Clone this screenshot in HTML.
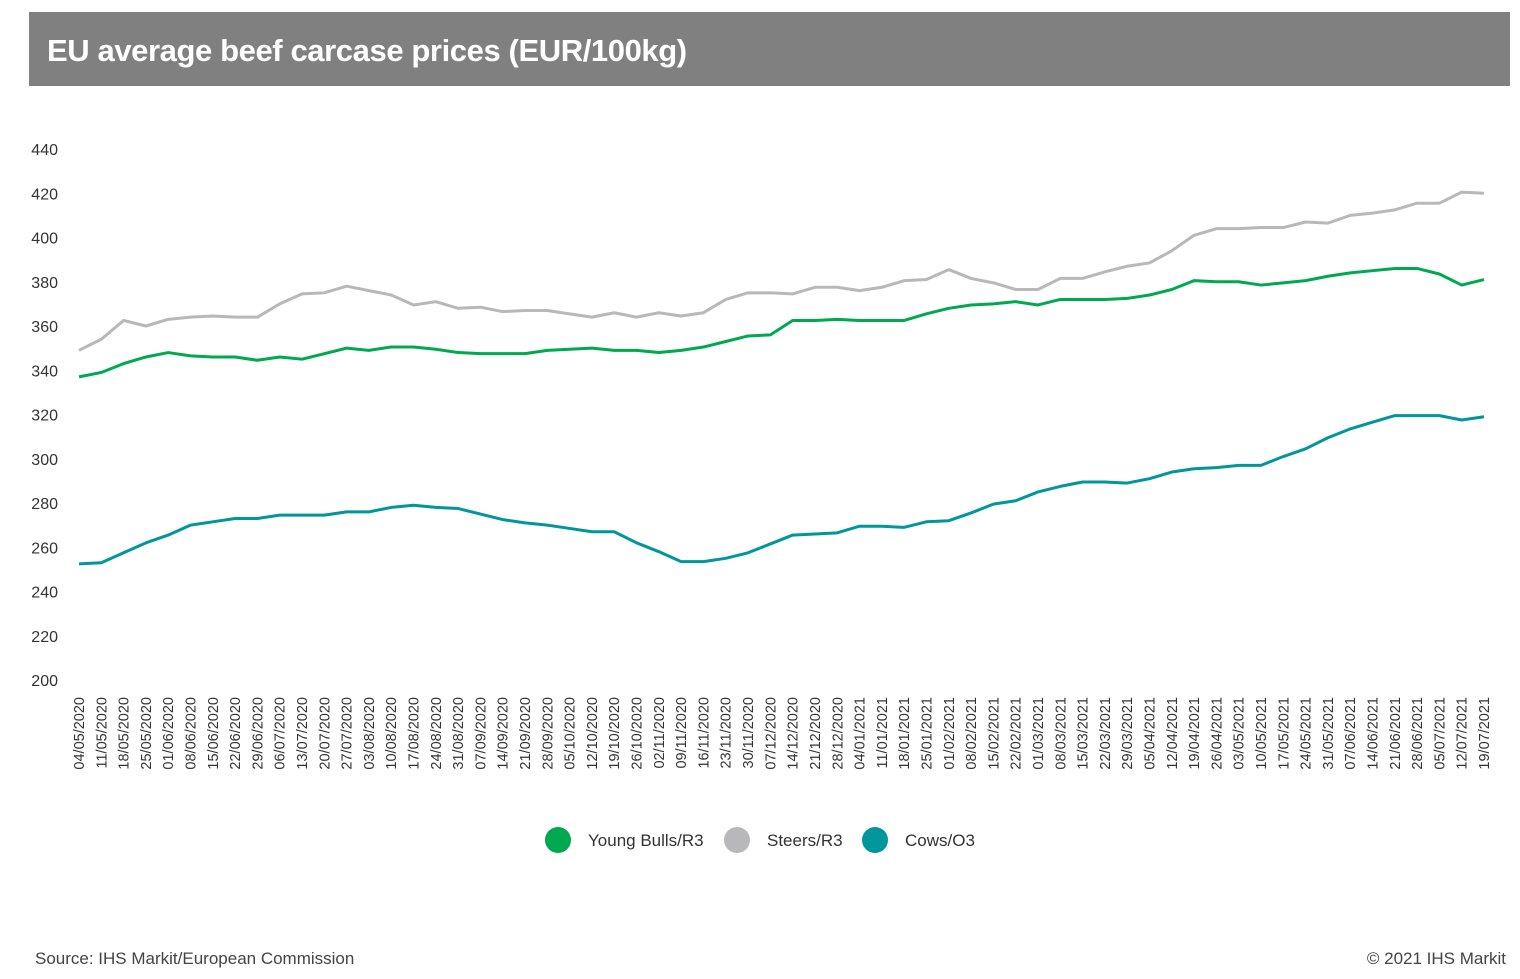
<!DOCTYPE html>
<html><head><meta charset="utf-8">
<style>
body{margin:0;background:#fff;font-family:"Liberation Sans",Arial,sans-serif;}
#wrap{position:relative;width:1520px;height:979px;overflow:hidden;}
#title{position:absolute;left:29px;top:12px;width:1481px;height:74px;background:#808080;}
#title span{position:absolute;left:18px;top:21px;color:#fff;font-weight:bold;font-size:31px;letter-spacing:-0.4px;}
.foot{position:absolute;top:949px;font-size:17px;color:#444;}
</style></head><body>
<div id="wrap">
<div id="title"><span>EU average beef carcase prices (EUR/100kg)</span></div>
<svg id="chart" width="1520" height="979" style="position:absolute;left:0;top:0"></svg>
<div class="foot" style="left:35px">Source: IHS Markit/European Commission</div>
<div class="foot" style="right:14px">© 2021 IHS Markit</div>
</div>
<script>
const dates=["04/05/2020","11/05/2020","18/05/2020","25/05/2020","01/06/2020","08/06/2020","15/06/2020","22/06/2020","29/06/2020","06/07/2020","13/07/2020","20/07/2020","27/07/2020","03/08/2020","10/08/2020","17/08/2020","24/08/2020","31/08/2020","07/09/2020","14/09/2020","21/09/2020","28/09/2020","05/10/2020","12/10/2020","19/10/2020","26/10/2020","02/11/2020","09/11/2020","16/11/2020","23/11/2020","30/11/2020","07/12/2020","14/12/2020","21/12/2020","28/12/2020","04/01/2021","11/01/2021","18/01/2021","25/01/2021","01/02/2021","08/02/2021","15/02/2021","22/02/2021","01/03/2021","08/03/2021","15/03/2021","22/03/2021","29/03/2021","05/04/2021","12/04/2021","19/04/2021","26/04/2021","03/05/2021","10/05/2021","17/05/2021","24/05/2021","31/05/2021","07/06/2021","14/06/2021","21/06/2021","28/06/2021","05/07/2021","12/07/2021","19/07/2021"];
const youngBulls=[337,339,343,346,348,346.5,346,346,344.5,346,345,347.5,350,349,350.5,350.5,349.5,348,347.5,347.5,347.5,349,349.5,350,349,349,348,349,350.5,353,355.5,356,362.5,362.5,363,362.5,362.5,362.5,365.5,368,369.5,370,371,369.5,372,372,372,372.5,374,376.5,380.5,380,380,378.5,379.5,380.5,382.5,384,385,386,386,383.5,378.5,381];
const steers=[349,354,362.5,360,363,364,364.5,364,364,370,374.5,375,378,376,374,369.5,371,368,368.5,366.5,367,367,365.5,364,366,364,366,364.5,366,372,375,375,374.5,377.5,377.5,376,377.5,380.5,381,385.5,381.5,379.5,376.5,376.5,381.5,381.5,384.5,387,388.5,394,401,404,404,404.5,404.5,407,406.5,410,411,412.5,415.5,415.5,420.5,420];
const cows=[252.5,253,257.5,262,265.5,270,271.5,273,273,274.5,274.5,274.5,276,276,278,279,278,277.5,275,272.5,271,270,268.5,267,267,262,258,253.5,253.5,255,257.5,261.5,265.5,266,266.5,269.5,269.5,269,271.5,272,275.5,279.5,281,285,287.5,289.5,289.5,289,291,294,295.5,296,297,297,301,304.5,309.5,313.5,316.5,319.5,319.5,319.5,317.5,319];
const yTicks=[200,220,240,260,280,300,320,340,360,380,400,420,440];
const seriesNames=["Young Bulls/R3","Steers/R3","Cows/O3"];
const seriesColors=["#00a84f","#b8b8ba","#00969b"];

const NS="http://www.w3.org/2000/svg";
const svg=document.getElementById('chart');
const x0=79,x1=1484,yTop=149,yBot=680;
function xs(i){return x0+(x1-x0)*i/(dates.length-1);}
function ys(v){return yBot-(v-200)*(yBot-yTop)/240;}
function mk(t,a){const e=document.createElementNS(NS,t);for(const k in a)e.setAttribute(k,a[k]);svg.appendChild(e);return e;}
yTicks.forEach(v=>{
  const t=mk('text',{x:58,y:ys(v)+6,'text-anchor':'end','font-size':16,fill:'#333'});
  t.textContent=v;
  
  
});
dates.forEach((d,i)=>{
  const x=xs(i)+5, y=697;
  const t=mk('text',{x:x,y:y,'text-anchor':'end','font-size':14.5,fill:'#333',transform:`rotate(-90 ${x} ${y})`});
  t.textContent=d;
  
  
});
[steers,youngBulls,cows].forEach((s,k)=>{
  const idx=[1,0,2][k];
  const p=mk('polyline',{points:s.map((v,i)=>xs(i)+','+ys(v)).join(' '),fill:'none',stroke:seriesColors[idx],'stroke-width':3,'stroke-linejoin':'round'});
  
  
});
const lx=[558,737,875], tx=[588,767,905];
seriesNames.forEach((n,i)=>{
  const c=mk('circle',{cx:lx[i],cy:840,r:13,fill:seriesColors[i]});
  
  
  const t=mk('text',{x:tx[i],y:846,'font-size':17,fill:'#333'});
  t.textContent=n;
  
  
});
</script>
</body></html>
